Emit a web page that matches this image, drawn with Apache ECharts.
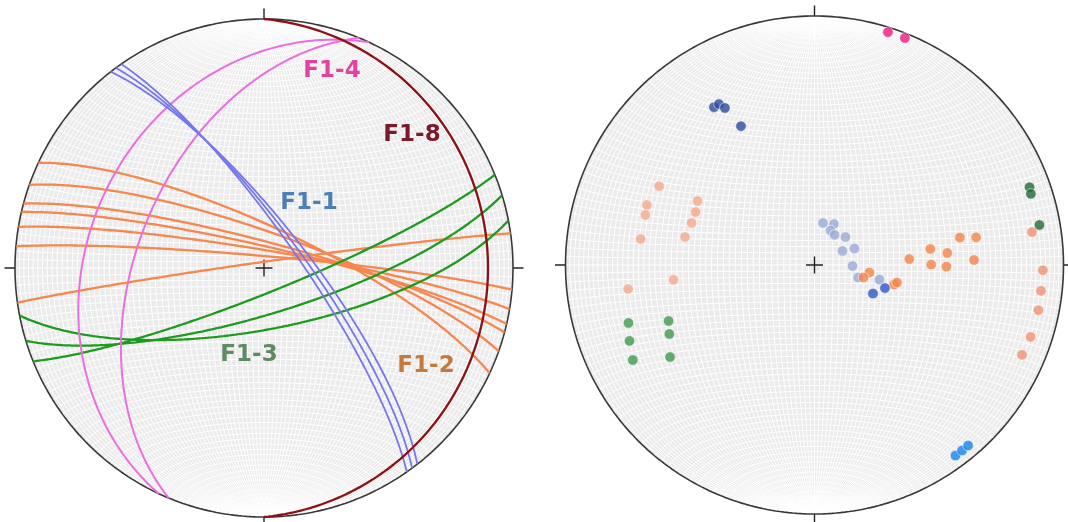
<!DOCTYPE html>
<html>
<head>
<meta charset="utf-8">
<script src="https://cdn.jsdelivr.net/npm/echarts/dist/echarts.min.js"></script>
<style>
html,body{margin:0;padding:0;background:#ffffff;}
#chart{width:1068px;height:522px;}
</style>
</head>
<body>
<div id="chart"></div>
<script>
// ---- Planes, right-hand rule: [strike, dip] (degrees) ----
const planesF1_1 = [[322, 76], [323.5, 77.5], [325, 79]];
const planesF1_2 = [[295, 76.6], [289.5, 78.3], [285, 81.5], [283, 83], [279.5, 84.2], [275, 86.1], [262, 88]];
const planesF1_3 = [[68, 82], [73, 75], [79, 70]];
const planesF1_4 = [[205, 30], [202.5, 48]];
const planesF1_8 = [[0, 11]];

// ---- Lineations / poles: [trend, plunge] (degrees) ----
const dotsPink   = [[17.5, 2.2], [21.7, 2.1]];
const dotsNavy   = [[327.5, 25.8], [329.3, 25.8], [330.3, 28.2], [332.1, 37.0]];
const dotsSalmonW = [[296.9, 30.7], [289.7, 29.3], [286.5, 29.9], [298.7, 45.5], [294.0, 46.6],
                     [288.9, 46.7], [282.2, 45.8], [278.5, 30.1], [262.7, 25.5], [264.0, 42.5]];
const dotsGreenW = [[252.7, 22.8], [247.7, 20.8], [242.4, 18.8], [249.0, 37.3], [244.6, 35.7], [237.5, 31.8]];
const dotsGreenE = [[70.1, 9.0], [71.8, 9.4], [79.9, 9.1]];
const dotsSalmonE = [[81.4, 12.7], [91.3, 9.1], [96.5, 9.3], [101.4, 9.1], [108.4, 9.4], [113.4, 10.1]];
const dotsOrange = [[86.4, 58.7], [82.1, 51.2], [89.8, 51.3], [84.8, 45.5], [90.7, 46.0], [79.3, 40.3],
                    [80.3, 34.5], [88.2, 36.1], [97.8, 71.9], [104.3, 73.5], [103.8, 63.1], [102.0, 62.3]];
const dotsLightBlue = [[11.4, 76.0], [25.4, 75.2], [24.9, 77.6], [33.7, 78.2], [47.9, 76.4],
                       [67.6, 75.9], [63.4, 79.8], [91.5, 77.6], [106.0, 75.2], [102.6, 68.2]];
const dotsBlue = [[116.0, 68.7], [108.1, 65.7]];
const dotsSky  = [[143.5, 5.4], [141.5, 5.4], [139.6, 5.4]];

// ---- Plane labels ----
const labelNames = ['F1-4', 'F1-8', 'F1-1', 'F1-3', 'F1-2'];

// ---- Equal-area (Schmidt) lower-hemisphere projection ----
const RAD = Math.PI / 180;
function project(e, n, d) {
  const k = 1 / Math.sqrt(1 + d);
  return [e * k, n * k];
}
function lineToXY(trend, plunge) {
  const t = trend * RAD, p = plunge * RAD;
  return project(Math.cos(p) * Math.sin(t), Math.cos(p) * Math.cos(t), Math.sin(p));
}
function greatCircle(strike, dip, step) {
  step = step || 1;
  const s = strike * RAD, dd = (strike + 90) * RAD, dp = dip * RAD;
  const S = [Math.sin(s), Math.cos(s), 0];
  const D = [Math.sin(dd) * Math.cos(dp), Math.cos(dd) * Math.cos(dp), Math.sin(dp)];
  const pts = [];
  for (let a = 0; a <= 180 + 1e-9; a += step) {
    const c = Math.cos(a * RAD), sn = Math.sin(a * RAD);
    pts.push(project(c * S[0] + sn * D[0], c * S[1] + sn * D[1], Math.max(0, c * S[2] + sn * D[2])));
  }
  return pts;
}
// cone of half-angle alpha about the horizontal N-S axis
function smallCircle(alpha, step) {
  step = step || 2;
  const ca = Math.cos(alpha * RAD), sa = Math.sin(alpha * RAD);
  const pts = [];
  for (let f = 0; f <= 180 + 1e-9; f += step) {
    pts.push(project(sa * Math.cos(f * RAD), ca, sa * Math.sin(f * RAD)));
  }
  return pts;
}
function primitive() {
  const pts = [];
  for (let a = 0; a <= 360; a += 1) pts.push([Math.sin(a * RAD), Math.cos(a * RAD)]);
  return pts;
}

// 2-degree net
const netLines = [];
for (let dip = 2; dip <= 88; dip += 2) {
  netLines.push({ coords: greatCircle(0, dip, 2) });
  netLines.push({ coords: greatCircle(180, dip, 2) });
}
netLines.push({ coords: greatCircle(0, 90, 2) });
for (let a = 2; a <= 178; a += 2) netLines.push({ coords: smallCircle(a, 2) });

// ticks and centre cross, in net units
const tickSegs = [
  [[0, 1], [0, 1.042]], [[0, -1], [0, -1.042]], [[1, 0], [1.042, 0]], [[-1, 0], [-1.042, 0]],
  [[-0.034, 0], [0.034, 0]], [[0, -0.034], [0, 0.034]]
];

const EXT = 1.06;
const R = 249;
const SIDE = 2 * R * EXT;
const nets = [
  { cx: 264, cy: 268 },
  { cx: 814.5, cy: 265 }
];

const series = [];
nets.forEach(function (net, i) {
  series.push({
    type: 'lines', coordinateSystem: 'cartesian2d', xAxisIndex: i, yAxisIndex: i,
    polyline: true, silent: true, z: 1,
    lineStyle: { color: '#ffffff', width: 1, opacity: 1 },
    data: netLines
  });
  series.push({
    type: 'line', xAxisIndex: i, yAxisIndex: i, data: primitive(), symbol: 'none',
    silent: true, z: 5, lineStyle: { color: '#383838', width: 1.6 }
  });
  series.push({
    type: 'lines', coordinateSystem: 'cartesian2d', xAxisIndex: i, yAxisIndex: i,
    polyline: true, silent: true, z: 5,
    lineStyle: { color: '#222222', width: 1.4, opacity: 1 },
    data: tickSegs.map(function (s) { return { coords: s }; })
  });
});

function addPlanes(list, color, width, z) {
  list.forEach(function (p) {
    series.push({
      type: 'line', xAxisIndex: 0, yAxisIndex: 0, data: greatCircle(p[0], p[1], 1),
      symbol: 'none', silent: true, z: z, clip: false,
      lineStyle: { color: color, width: width }
    });
  });
}
addPlanes(planesF1_2, '#f5874f', 2.3, 10);
addPlanes(planesF1_3, '#1e9b1e', 2.3, 11);
addPlanes(planesF1_4, '#ea6fdc', 2.0, 12);
addPlanes(planesF1_1, '#7676ee', 1.8, 13);
addPlanes(planesF1_8, '#8c1016', 2.3, 14);

function addDots(list, color, z) {
  series.push({
    type: 'scatter', xAxisIndex: 1, yAxisIndex: 1, silent: true, z: z,
    symbolSize: 10.5,
    itemStyle: { color: color, borderColor: 'rgba(255,255,255,0.7)', borderWidth: 1 },
    data: list.map(function (d) { return lineToXY(d[0], d[1]); })
  });
}
addDots(dotsLightBlue, '#9aaad4', 20);
addDots(dotsSalmonW, '#f4a98c', 20);
addDots(dotsSalmonE, '#ef9272', 20);
addDots(dotsOrange, '#f3854a', 21);
addDots(dotsGreenW, '#3f9a4f', 20);
addDots(dotsGreenE, '#1e6b35', 20);
addDots(dotsNavy, '#2d4a9c', 20);
addDots(dotsPink, '#ec1a7f', 20);
addDots(dotsBlue, '#2d55c6', 22);
addDots(dotsSky, '#1a82ea', 20);

const grids = nets.map(function (n) {
  return {
    left: n.cx - SIDE / 2, top: n.cy - SIDE / 2, width: SIDE, height: SIDE,
    containLabel: false, outerBoundsMode: 'none'
  };
});
const axisBase = { type: 'value', min: -EXT, max: EXT, show: false };

const labelStyle = [
  { x: 332, y: 71, fill: '#e4429f' },
  { x: 412, y: 135, fill: '#7a1a2a' },
  { x: 309, y: 203, fill: '#4d7eb5' },
  { x: 249, y: 355, fill: '#5f8b62' },
  { x: 426, y: 366, fill: '#c47a3c' }
];
const graphic = nets.map(function (n) {
  return {
    type: 'circle', z: 0, silent: true,
    shape: { cx: n.cx, cy: n.cy, r: R },
    style: { fill: '#ebebeb' }
  };
}).concat(labelNames.map(function (t, i) {
  return {
    type: 'text', x: labelStyle[i].x, y: labelStyle[i].y, z: 100, silent: true,
    style: {
      text: t, fill: labelStyle[i].fill, align: 'center', verticalAlign: 'middle',
      font: 'bold 23px "DejaVu Sans", sans-serif'
    }
  };
}));

const chart = echarts.init(document.getElementById('chart'), null, { renderer: 'canvas' });
chart.setOption({
  animation: false,
  backgroundColor: '#ffffff',
  grid: grids,
  xAxis: [Object.assign({ gridIndex: 0 }, axisBase), Object.assign({ gridIndex: 1 }, axisBase)],
  yAxis: [Object.assign({ gridIndex: 0 }, axisBase), Object.assign({ gridIndex: 1 }, axisBase)],
  graphic: graphic,
  series: series
});
</script>
</body>
</html>
